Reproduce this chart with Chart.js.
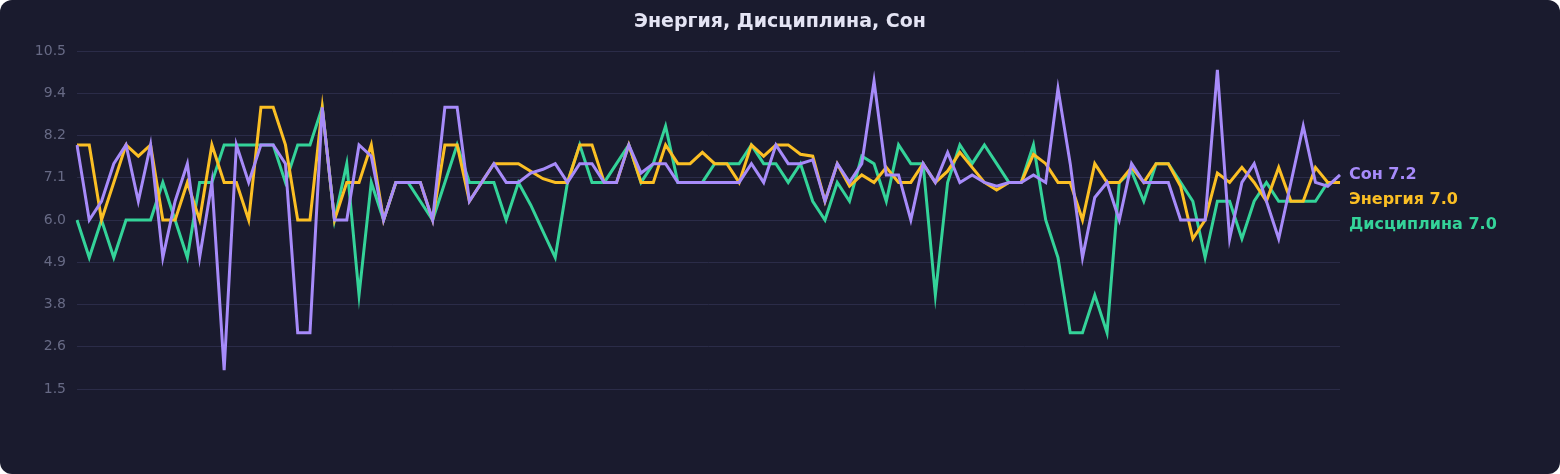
<!DOCTYPE html>
<html><head><meta charset="utf-8">
<script src="https://cdn.jsdelivr.net/npm/chart.js@4"></script>
<style>
html,body{margin:0;padding:0;background:#ffffff;}
#card{width:1560px;height:474px;background:#1a1b2e;border-radius:12px;overflow:hidden;position:relative;}
</style></head><body>
<div id="card"><canvas id="c"></canvas></div>
<script>
const categories = Array.from({length:104},(_, i)=>String(i+1));
const energy = [8,8,6,7,8,7.7,8,6,6,7,6,8,7,7,6,9,9,8,6,6,9,6,7,7,8,6,7,7,7,6,8,8,6.5,7,7.5,7.5,7.5,7.3,7.1,7,7,8,8,7,7,8,7,7,8,7.5,7.5,7.8,7.5,7.5,7,8,7.7,8,8,7.75,7.7,6.5,7.5,6.9,7.2,7,7.4,7,7,7.5,7,7.3,7.8,7.4,7,6.8,7,7,7.75,7.5,7,7,6,7.5,7,7,7.4,7,7.5,7.5,6.9,5.5,6,7.25,7,7.4,7,6.5,7.4,6.5,6.5,7.4,7,7];
const discipline = [6,5,6,5,6,6,6,7,6,5,7,7,8,8,8,8,8,7,8,8,9,6,7.5,4,7,6,7,7,6.5,6,7,8,7,7,7,6,7,6.4,5.7,5,7,8,7,7,7.5,8,7,7.5,8.5,7,7,7,7.5,7.5,7.5,8,7.5,7.5,7,7.5,6.5,6,7,6.5,7.7,7.5,6.5,8,7.5,7.5,4,7,8,7.5,8,7.5,7,7,8,6,5,3,3,4,3,7,7.3,6.5,7.5,7.5,7,6.5,5,6.5,6.5,5.5,6.5,7,6.5,6.5,6.5,6.5,7,7];
const sleep = [8,6,6.5,7.5,8,6.5,8,5,6.5,7.5,5,7,2,8,7,8,8,7.5,3,3,9,6,6,8,7.7,6,7,7,7,6,9,9,6.5,7,7.5,7,7,7.25,7.35,7.5,7,7.5,7.5,7,7,8,7.25,7.5,7.5,7,7,7,7,7,7,7.5,7,8,7.5,7.5,7.6,6.5,7.5,7,7.5,9.7,7.2,7.2,6,7.5,7,7.8,7,7.2,7,6.9,7,7,7.2,7,9.5,7.5,5,6.6,7,6,7.5,7,7,7,6,6,6,10,5.5,7,7.5,6.5,5.5,7,8.5,7,6.9,7.2];
const tickLabels = ["1.5","2.6","3.8","4.9","6.0","7.1","8.2","9.4","10.5"];
const seriesNames = ["Сон","Энергия","Дисциплина"];
const titleText = "Энергия, Дисциплина, Сон";

const colors = {sleep:'#a78bfa', energy:'#fbbf24', disc:'#34d399'};

const endLabels = {
  id:'endLabels',
  afterDatasetsDraw(chart){
    const ctx = chart.ctx, y = chart.scales.y;
    const items = chart.data.datasets.map(d=>{
      const v = d.data[d.data.length-1];
      return {text:d.label+' '+v.toFixed(1), color:d.borderColor, y:y.getPixelForValue(v)};
    }).sort((a,b)=>a.y-b.y);
    for(let i=1;i<items.length;i++){ if(items[i].y < items[i-1].y+25) items[i].y = items[i-1].y+25; }
    ctx.save();
    ctx.font = 'bold 16px "DejaVu Sans", sans-serif';
    ctx.textBaseline='middle'; ctx.textAlign='left';
    items.forEach(it=>{ctx.fillStyle=it.color; ctx.fillText(it.text, chart.chartArea.right+9, it.y);});
    ctx.fillStyle='#e4e4f4'; ctx.textAlign='center';
    ctx.font='bold 19px "DejaVu Sans", sans-serif';
    ctx.fillText(titleText, 780, 22);
    ctx.restore();
  }
};

new Chart(document.getElementById('c'),{
  type:'line',
  data:{labels:categories,datasets:[
    {label:seriesNames[0],data:sleep,borderColor:colors.sleep,borderWidth:3,pointRadius:0,tension:0},
    {label:seriesNames[1],data:energy,borderColor:colors.energy,borderWidth:3,pointRadius:0,tension:0},
    {label:seriesNames[2],data:discipline,borderColor:colors.disc,borderWidth:3,pointRadius:0,tension:0}
  ]},
  options:{
    responsive:true,maintainAspectRatio:false,animation:false,
    layout:{padding:{top:51,bottom:85,right:220,left:0}},
    plugins:{legend:{display:false},tooltip:{enabled:false}},
    scales:{
      x:{display:false},
      y:{min:1.5,max:10.5,
        afterFit(s){s.width=77;},
        border:{display:false},
        grid:{color:'#2b2c48',lineWidth:1,drawTicks:false},
        ticks:{count:9,padding:11,color:'#676a85',font:{size:14,family:'"DejaVu Sans", sans-serif'},
          callback:(v,i)=>tickLabels[i]}
      }
    }
  },
  plugins:[endLabels]
});
</script></body></html>
